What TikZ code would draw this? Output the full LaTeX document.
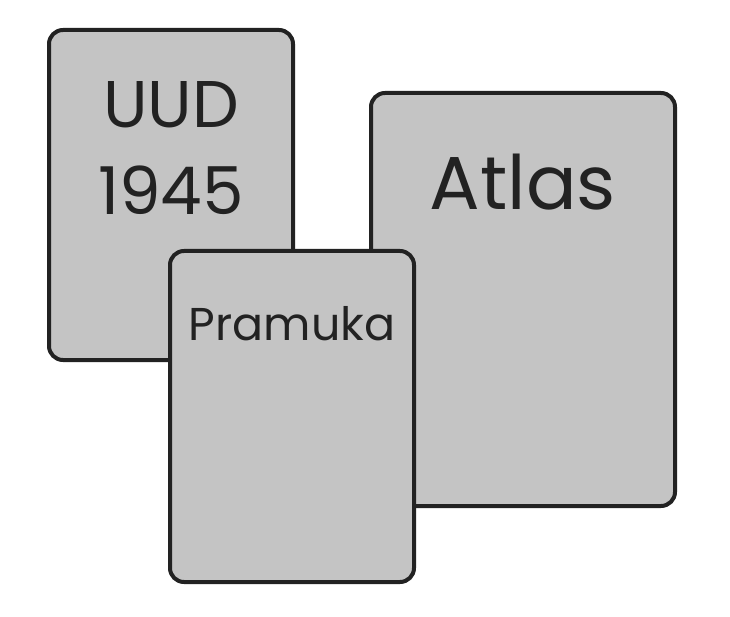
\documentclass[tikz,border=0pt]{standalone}
\usepackage{fontspec}
\setmainfont{Poppins}
\usetikzlibrary{positioning}
\definecolor{ink}{HTML}{222222}
\definecolor{cardgray}{HTML}{C4C4C4}
\definecolor{paper}{HTML}{FFFFFF}
\tikzset{
  card/.style={draw=ink,fill=cardgray,line width=4pt,rounded corners=14pt,inner sep=0pt},
  cardtext/.style={text=ink,inner sep=0pt,anchor=base}
}

\begin{document}
\begin{tikzpicture}[x=1pt,y=-1pt]
  \useasboundingbox[fill=paper] (0,0) rectangle (730,617);
  % back cards
  \node[card,minimum width=244pt,minimum height=330pt] (uudcard) at (171,195) {};
  \node[card,minimum width=304pt,minimum height=413pt] (atlascard) at (523,299.5) {};
  % front card
  \node[card,minimum width=244pt,minimum height=331pt] (pramcard) at (292,416.5) {};

  \node[cardtext,font=\fontsize{66}{66}\selectfont] (uud) at (171,128) {UUD};
  \node[cardtext,font=\fontsize{66}{66}\selectfont] (year) at (171,215) {1945};
  \node[cardtext,font=\fontsize{75}{75}\selectfont] (atlas) at (523,210) {Atlas};
  \node[cardtext,font=\fontsize{46}{46}\selectfont] (pramuka) at (292,340) {Pramuka};
\end{tikzpicture}
\end{document}
